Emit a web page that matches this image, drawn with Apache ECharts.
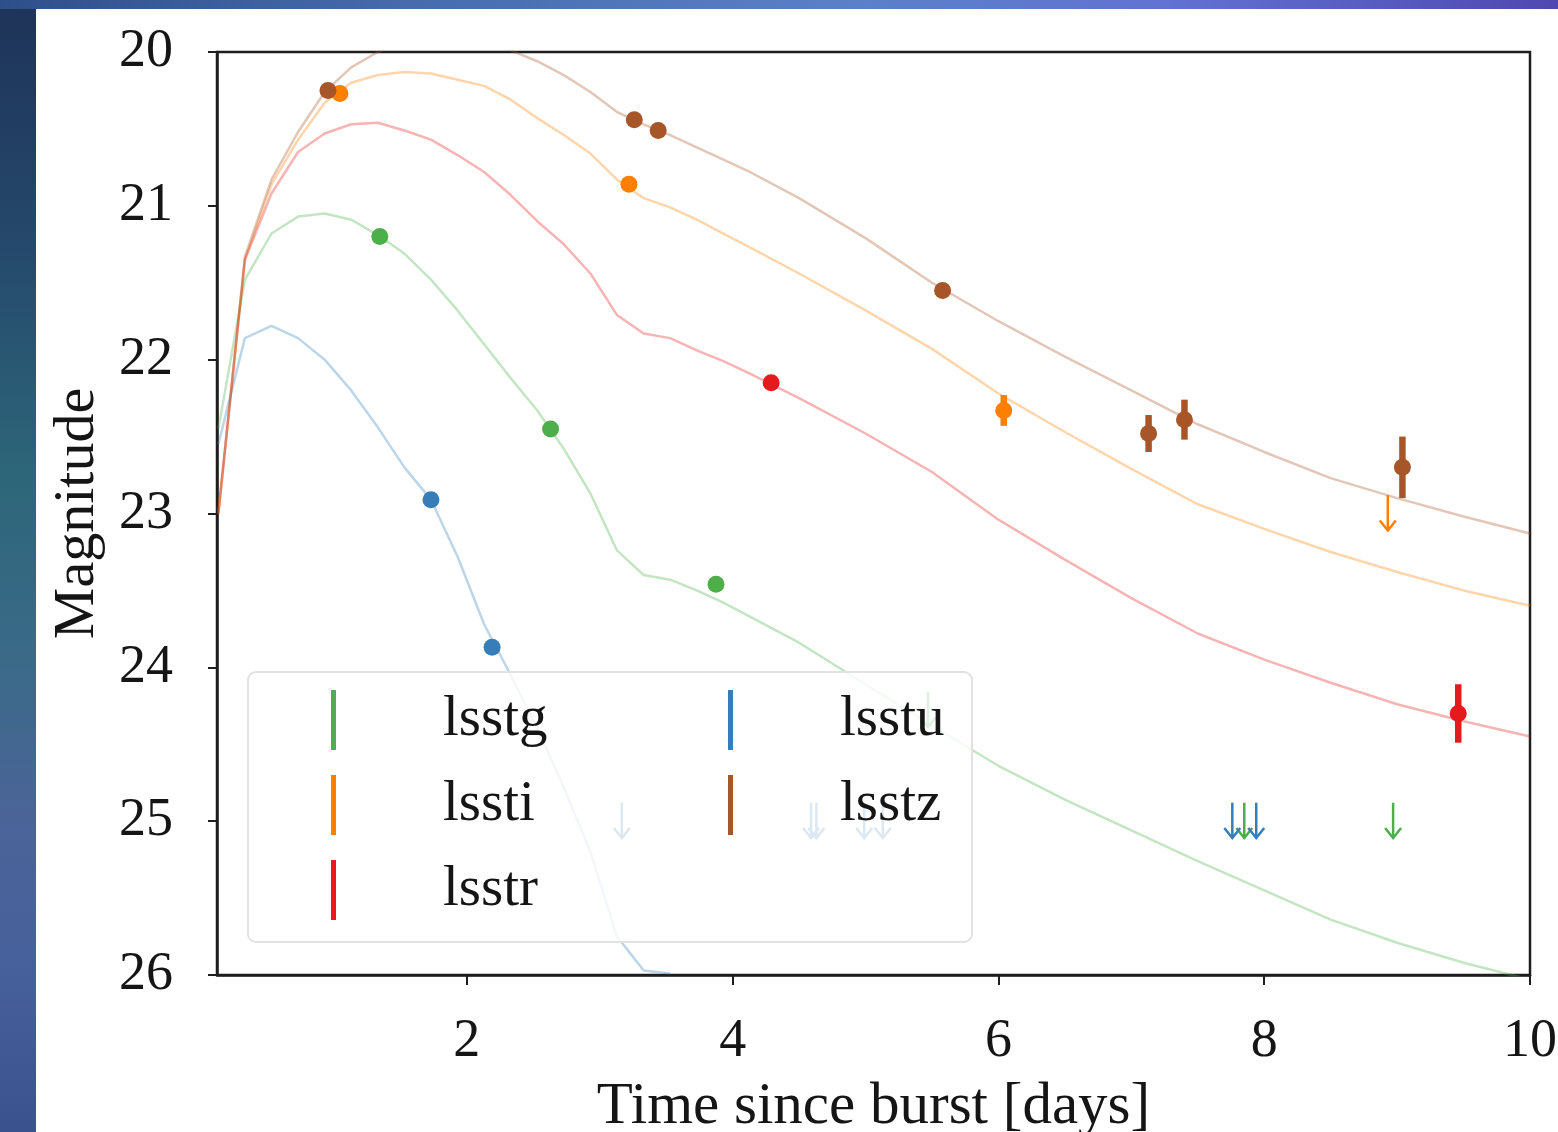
<!DOCTYPE html>
<html>
<head>
<meta charset="utf-8">
<script src="https://cdn.jsdelivr.net/npm/echarts@6/dist/echarts.min.js"></script>
<style>
  html, body { margin: 0; padding: 0; }
  body { width: 1558px; height: 1132px; position: relative; overflow: hidden;
    background: linear-gradient(to bottom, #1e3358 0%, #25496c 22%, #2d6679 42%, #3a6a88 58%, #4b6498 72%, #46609c 86%, #3a538f 100%); }
  #top { position: absolute; left: 0; top: 0; width: 1558px; height: 9px;
    background: linear-gradient(to right, #2f4f8a 0%, #4a6fb0 30%, #5b80c8 55%, #6272d2 75%, #4f48b0 100%); }
  #white { position: absolute; left: 36px; top: 9px; width: 1522px; height: 1123px; background: #ffffff; }
  #chart { position: absolute; left: 0; top: 0; width: 1558px; height: 1132px; }
</style>
</head>
<body>
<div id="top"></div>
<div id="white"></div>
<div id="chart"></div>
<script>
// ---- Data ----
const bands = ['lsstg', 'lssti', 'lsstr', 'lsstu', 'lsstz'];
const bandColors = { lsstg: '#4daf4a', lssti: '#ff7f00', lsstr: '#e41a1c', lsstu: '#377eb8', lsstz: '#a65628' };

const xTicks = [2, 4, 6, 8, 10];

// model light-curve time grid (days)
const modelTime = [0.13, 0.33, 0.53, 0.73, 0.93, 1.13, 1.33, 1.53, 1.73, 1.93, 2.13, 2.33, 2.53, 2.73, 2.93, 3.13, 3.33, 3.53, 3.73, 3.93, 4.13, 4.5, 5.0, 5.5, 6.0, 6.5, 7.0, 7.5, 8.0, 8.5, 9.0, 9.5, 10.0];
const modelG = [22.45, 21.48, 21.18, 21.07, 21.05, 21.09, 21.19, 21.31, 21.48, 21.68, 21.9, 22.12, 22.33, 22.58, 22.87, 23.24, 23.40, 23.43, 23.50, 23.58, 23.67, 23.84, 24.11, 24.38, 24.64, 24.86, 25.06, 25.26, 25.45, 25.64, 25.79, 25.92, 26.03];
const modelR = [23.0, 21.35, 20.92, 20.65, 20.53, 20.47, 20.46, 20.51, 20.57, 20.67, 20.78, 20.93, 21.10, 21.25, 21.44, 21.71, 21.83, 21.86, 21.94, 22.01, 22.09, 22.25, 22.48, 22.73, 23.04, 23.3, 23.55, 23.78, 23.95, 24.1, 24.24, 24.35, 24.45];
const modelI = [23.0, 21.35, 20.86, 20.57, 20.33, 20.2, 20.15, 20.13, 20.14, 20.18, 20.22, 20.31, 20.43, 20.54, 20.66, 20.83, 20.95, 21.01, 21.09, 21.18, 21.27, 21.44, 21.68, 21.93, 22.22, 22.47, 22.71, 22.94, 23.1, 23.25, 23.38, 23.5, 23.6];
const modelZ = [23.0, 21.33, 20.83, 20.52, 20.26, 20.1, 20.0, 19.93, 19.88, 19.87, 19.92, 19.99, 20.06, 20.15, 20.26, 20.39, 20.47, 20.54, 20.62, 20.70, 20.78, 20.95, 21.21, 21.5, 21.75, 21.98, 22.2, 22.42, 22.6, 22.77, 22.9, 23.02, 23.13];
const modelU = [22.55, 21.86, 21.78, 21.86, 22.0, 22.2, 22.44, 22.7, 22.91, 23.28, 23.72, 24.05, 24.4, 24.78, 25.2, 25.75, 25.97, 25.99, null, null, null, null, null, null, null, null, null, null, null, null, null, null, null];

// detections: [time, magnitude, error]
const detG = [[1.345, 21.2, 0], [2.63, 22.45, 0], [3.875, 23.46, 0]];
const detI = [[1.045, 20.27, 0], [3.22, 20.86, 0], [6.04, 22.33, 0.1]];
const detR = [[4.29, 22.15, 0], [9.46, 24.30, 0.19]];
const detU = [[1.73, 22.91, 0], [2.19, 23.87, 0]];
const detZ = [[0.955, 20.25, 0], [3.26, 20.44, 0], [3.44, 20.51, 0], [5.58, 21.55, 0], [7.13, 22.48, 0.12], [7.40, 22.39, 0.13], [9.04, 22.70, 0.2]];

// upper limits: [time, magnitude]
const limG = [[5.47, 24.28], [7.85, 25.0], [8.97, 25.0]];
const limI = [[8.93, 23.0]];
const limU = [[3.166, 25.0], [4.59, 25.0], [4.63, 25.0], [4.99, 25.0], [5.13, 25.0], [7.76, 25.0], [7.94, 25.0]];

// ---- Chart ----
const FONT = "'Liberation Serif', 'DejaVu Serif', serif";
const TXT = '#151515';

const models = { lsstg: modelG, lssti: modelI, lsstr: modelR, lsstu: modelU, lsstz: modelZ };
const dets = { lsstg: detG, lssti: detI, lsstr: detR, lsstu: detU, lsstz: detZ };
const lims = { lsstg: limG, lssti: limI, lsstu: limU };

function renderDet(params, api) {
  const x = api.value(0), y = api.value(1), e = api.value(2);
  const color = api.visual('color');
  const c = api.coord([x, y]);
  const children = [];
  if (e > 0) {
    const p1 = api.coord([x, y - e]), p2 = api.coord([x, y + e]);
    children.push({ type: 'line', shape: { x1: p1[0], y1: p1[1], x2: p2[0], y2: p2[1] },
      style: { stroke: color, lineWidth: 6.5 } });
  }
  children.push({ type: 'circle', shape: { cx: c[0], cy: c[1], r: 8.5 }, style: { fill: color } });
  return { type: 'group', children };
}

function renderLim(params, api) {
  const x = api.value(0), y = api.value(1);
  const color = api.visual('color');
  const top = api.coord([x, y - 0.12]);
  const tip = api.coord([x, y + 0.11]);
  return { type: 'group', children: [
    { type: 'line', shape: { x1: top[0], y1: top[1], x2: tip[0], y2: tip[1] },
      style: { stroke: color, lineWidth: 2.5 } },
    { type: 'polyline', shape: { points: [[tip[0] - 8, tip[1] - 10], [tip[0], tip[1]], [tip[0] + 8, tip[1] - 10]] },
      style: { stroke: color, lineWidth: 2.5, fill: null } }
  ] };
}

const series = [];
bands.forEach(b => {
  series.push({
    name: b + ' model', type: 'line', silent: true, z: 1,
    data: modelTime.map((t, i) => [t, models[b][i]]),
    showSymbol: false, symbol: 'none', connectNulls: false, clip: true,
    lineStyle: { color: bandColors[b], width: 2.5, opacity: 0.33 },
    itemStyle: { color: bandColors[b] }
  });
});
bands.forEach(b => {
  if (lims[b]) {
    series.push({
      name: b + ' limits', type: 'custom', z: 2, silent: true,
      itemStyle: { color: bandColors[b] },
      encode: { x: 0, y: 1 },
      data: lims[b], renderItem: renderLim
    });
  }
});
bands.forEach(b => {
  series.push({
    name: b, type: 'custom', z: 2, silent: true,
    itemStyle: { color: bandColors[b] },
    encode: { x: 0, y: 1 },
    data: dets[b], renderItem: renderDet
  });
});

const legendBase = {
  orient: 'vertical', padding: 0, itemGap: 19, itemWidth: 5, itemHeight: 60,
  icon: 'rect', z: 5, selectedMode: false,
  textStyle: { fontFamily: FONT, fontSize: 57, color: TXT, padding: [6, 0, 0, 102], lineHeight: 60 }
};

const option = {
  animation: false,
  backgroundColor: 'transparent',
  grid: { left: 217, right: 28, top: 52, bottom: 157, outerBoundsMode: 'none', containLabel: false,
    show: true, borderColor: '#1e1e1e', borderWidth: 2.5, backgroundColor: 'transparent' },
  legend: [
    Object.assign({}, legendBase, { left: 331, top: 687, data: ['lsstg', 'lssti', 'lsstr'] }),
    Object.assign({}, legendBase, { left: 728, top: 687, data: ['lsstu', 'lsstz'] })
  ],
  graphic: [{
    type: 'rect', z: 3, silent: true,
    shape: { x: 248, y: 672, width: 724, height: 270, r: 8 },
    style: { fill: 'rgba(255,255,255,0.82)', stroke: '#e2e2e2', lineWidth: 2 }
  }],
  xAxis: {
    type: 'value', min: 0.12, max: 10,
    name: 'Time since burst [days]', nameLocation: 'middle', nameGap: 103,
    nameTextStyle: { fontFamily: FONT, fontSize: 59, color: TXT },
    axisLine: { show: true, lineStyle: { color: '#1e1e1e', width: 2.5 } },
    axisTick: { show: true, length: 10, lineStyle: { color: '#1e1e1e', width: 2 }, customValues: xTicks },
    axisLabel: { fontFamily: FONT, fontSize: 54, color: TXT, margin: 40, customValues: xTicks },
    splitLine: { show: false }
  },
  yAxis: {
    type: 'value', min: 20, max: 26, interval: 1, inverse: true,
    name: 'Magnitude', nameLocation: 'middle', nameGap: 110,
    nameTextStyle: { fontFamily: FONT, fontSize: 58, color: TXT },
    axisLine: { show: true, lineStyle: { color: '#1e1e1e', width: 2.5 } },
    axisTick: { show: true, length: 9, lineStyle: { color: '#1e1e1e', width: 2 } },
    axisLabel: { fontFamily: FONT, fontSize: 54, color: TXT, margin: 44 },
    splitLine: { show: false }
  },
  series: series
};

const chart = echarts.init(document.getElementById('chart'), null, { renderer: 'canvas' });
chart.setOption(option);
</script>
</body>
</html>
